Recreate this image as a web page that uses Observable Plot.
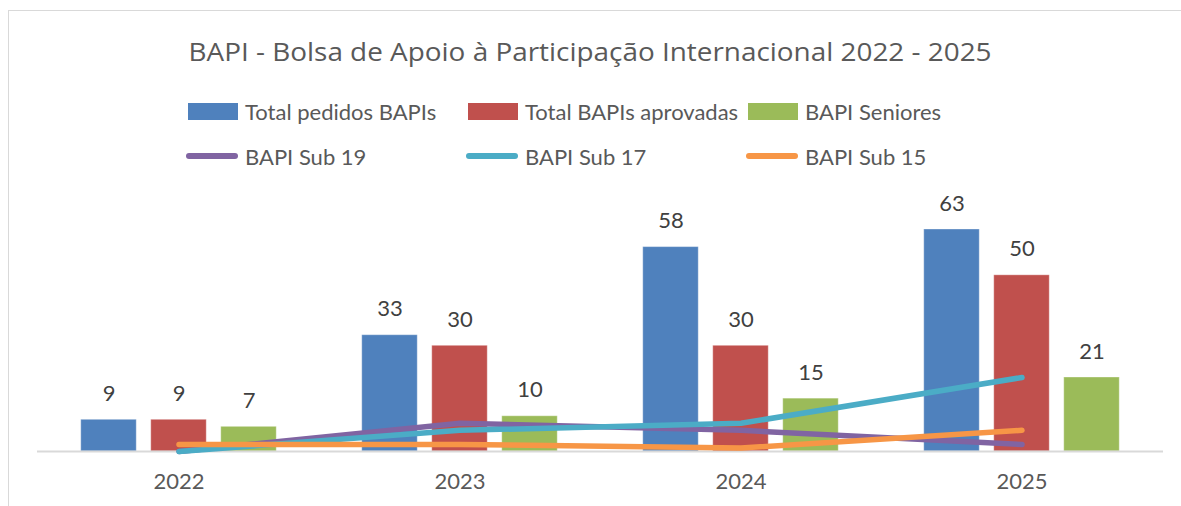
<!DOCTYPE html>
<html>
<head>
<meta charset="utf-8">
<script src="https://cdn.jsdelivr.net/npm/d3@7"></script>
<script src="https://cdn.jsdelivr.net/npm/@observablehq/plot@0.6"></script>
<style>
  html, body { margin: 0; padding: 0; background: #fff; overflow: hidden; }
  body { width: 1181px; height: 506px; position: relative; font-family: Lato, "Open Sans", sans-serif; color: #595959; }
  #frame { position: absolute; left: 8px; top: 10px; width: 1200px; height: 520px; border: 1.5px solid #d9d9d9; box-sizing: border-box; }
  #titlewrap { position: absolute; left: 0; width: 1181px; top: 33px; text-align: center; }
  #title { display: inline-block; font-family: "Open Sans", Lato, sans-serif; font-size: 25.5px; line-height: 36px; white-space: nowrap; transform-origin: 50% 50%; }
  .leg { position: absolute; display: flex; align-items: center; font-size: 22px; white-space: nowrap; }
  .sw { display: inline-block; width: 50px; height: 17px; margin-right: 7px; }
  .ln { display: inline-block; width: 52px; height: 6px; border-radius: 3px; margin-right: 7px; }
  #chart { position: absolute; left: 0; top: 180px; }
</style>
</head>
<body>
<div id="frame"></div>
<div id="titlewrap"><span id="title"></span></div>
<div id="legend"></div>
<div id="chart"></div>
<script>
const title = "BAPI - Bolsa de Apoio à Participação Internacional 2022 - 2025";
const years = ["2022", "2023", "2024", "2025"];
const barSeries = ["Total pedidos BAPIs", "Total BAPIs aprovadas", "BAPI Seniores"];
const totalPedidos = [9, 33, 58, 63];
const totalAprovadas = [9, 30, 30, 50];
const seniores = [7, 10, 15, 21];
const lineSeries = ["BAPI Sub 19", "BAPI Sub 17", "BAPI Sub 15"];
const sub19 = [0, 8, 6, 2];
const sub17 = [0, 6, 8, 21];
const sub15 = [2, 2, 1, 6];

const barColors = ["#4f81bd", "#c0504d", "#9bbb59"];
const lineColors = ["#8064a2", "#4bacc6", "#f79646"];

const titleEl = document.getElementById("title");
titleEl.textContent = title;
const tw = titleEl.getBoundingClientRect().width;
titleEl.style.transform = `scaleX(${803 / tw})`;

// Legend
const legend = document.getElementById("legend");
const colX = [188, 468, 748];
barSeries.forEach((s, i) => {
  const d = document.createElement("div");
  d.className = "leg";
  d.style.left = colX[i] + "px";
  d.style.top = "98px";
  d.style.height = "26px";
  d.innerHTML = `<span class="sw" style="background:${barColors[i]}"></span><span>${s}</span>`;
  legend.appendChild(d);
});
lineSeries.forEach((s, i) => {
  const d = document.createElement("div");
  d.className = "leg";
  d.style.left = (colX[i] - 2) + "px";
  d.style.top = "143px";
  d.style.height = "26px";
  d.innerHTML = `<span class="ln" style="background:${lineColors[i]}"></span><span>${s}</span>`;
  legend.appendChild(d);
});

const barValues = [totalPedidos, totalAprovadas, seniores];
const lineValues = [sub19, sub17, sub15];

const bars = barValues.map((vals, i) => years.map((y, j) => ({year: y, value: vals[j], series: barSeries[i]})));
const lines = lineValues.map((vals, i) => years.map((y, j) => ({year: y, value: vals[j], series: lineSeries[i]})));

// within a band of 281.5px: bars 56px wide with 14px gaps, centered
const insets = [[42.75, 182.75], [112.75, 112.75], [182.75, 42.75]];
const offsets = [-70, 0, 70];

const marks = [];
bars.forEach((data, i) => {
  marks.push(Plot.barY(data, {x: "year", y: "value", fill: barColors[i], stroke: "#ffffff", strokeOpacity: 0.35, strokeWidth: 1, insetLeft: insets[i][0], insetRight: insets[i][1]}));
  marks.push(Plot.text(data, {x: "year", y: "value", text: d => String(d.value), dx: offsets[i], dy: -26, fontSize: 22, fill: "#404040"}));
});
marks.push(Plot.ruleY([0], {stroke: "#d9d9d9", strokeWidth: 2}));
lines.forEach((data, i) => {
  marks.push(Plot.line(data, {x: "year", y: "value", stroke: lineColors[i], strokeWidth: 5.5, strokeLinecap: "round", strokeLinejoin: "round"}));
});
marks.push(Plot.axisX({tickSize: 0, tickPadding: 22, fontSize: 22, color: "#595959", label: null}));

const chart = Plot.plot({
  width: 1181,
  height: 326,
  marginLeft: 37,
  marginRight: 18,
  marginTop: 49,
  marginBottom: 55,
  style: {fontFamily: "Lato, 'Open Sans', sans-serif", background: "transparent", overflow: "visible"},
  x: {type: "band", domain: years, padding: 0, axis: null},
  y: {domain: [0, 63], axis: null},
  marks
});
document.getElementById("chart").appendChild(chart);
</script>
</body>
</html>
